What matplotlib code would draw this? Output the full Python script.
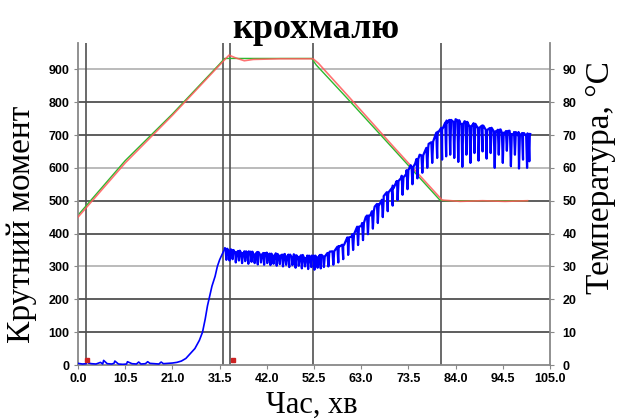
import matplotlib
matplotlib.use("Agg")
import matplotlib.pyplot as plt

# ---------------- data ----------------
title = "крохмалю"
ylabel_left = "Крутний момент"
ylabel_right = "Температура, °C"
xlabel = "Час, хв"

x_ticks = [0.0, 10.5, 21.0, 31.5, 42.0, 52.5, 63.0, 73.5, 84.0, 94.5, 105.0]
y_ticks_left = [0, 100, 200, 300, 400, 500, 600, 700, 800, 900]
y_ticks_right = [0, 10, 20, 30, 40, 50, 60, 70, 80, 90]
event_lines = [1.8, 32.3, 33.8, 52.3, 80.8]

# torque (blue): low phase and rise
rise_t = [0.0, 1.0, 1.8, 2.0, 2.3, 3.0, 4.0, 5.0, 5.5, 5.7, 6.5, 7.5, 8.0, 8.2, 9.0,
          10.0, 10.8, 11.0, 12.0, 13.0, 13.5, 14.0, 15.0, 15.5, 16.0, 17.0, 18.0,
          18.5, 19.0, 20.0, 21.0, 22.0, 23.0, 24.0, 25.0, 26.0, 27.0, 27.7, 28.3,
          28.8, 29.3, 29.8, 30.5, 31.0, 31.5, 32.0, 32.7]
rise_v = [5, 3, 4, 18, 6, 4, 3, 8, 3, 14, 4, 3, 5, 12, 3,
          2, 3, 10, 4, 3, 9, 3, 4, 10, 5, 4, 3,
          9, 4, 5, 6, 8, 12, 20, 35, 50, 75, 100, 140,
          180, 210, 240, 270, 300, 320, 335, 355]
# torque (blue): noisy band after gelatinisation
band_t = [32.7, 33.5, 34.0, 35.0, 36.0, 37.0, 38.0, 39.0, 40.0, 41.0, 42.0, 43.0,
          44.0, 45.0, 46.0, 47.0, 48.0, 49.0, 50.0, 51.0, 52.0, 53.0, 54.0, 55.0,
          56.0, 57.0, 58.0, 59.0, 60.0, 61.0, 62.0, 63.0, 64.0, 65.0, 66.0, 67.0,
          68.0, 69.0, 70.0, 71.0, 72.0, 73.0, 74.0, 75.0, 76.0, 77.0, 78.0, 79.0,
          80.0, 81.0, 82.0, 83.0, 84.0, 85.0, 86.0, 87.0, 88.0, 89.0, 90.0, 91.0,
          92.0, 93.0, 94.0, 95.0, 96.0, 97.0, 98.0, 99.0, 100.0, 100.5]
band_v = [355, 348, 352, 343, 348, 340, 346, 338, 344, 336, 342, 334,
          340, 333, 338, 331, 337, 329, 335, 327, 333, 327, 335, 332,
          345, 343, 362, 363, 388, 392, 418, 423, 450, 455, 482, 487,
          514, 519, 546, 550, 576, 581, 608, 613, 640, 645, 673, 680,
          710, 717, 744, 740, 748, 735, 742, 728, 736, 722, 729, 715,
          722, 709, 717, 705, 713, 701, 709, 697, 705, 696]
# downward spikes of the torque signal: time, lowest value, value beside the spike
dip_t = [33.0, 33.7, 34.4, 35.1, 35.8, 36.5, 37.2, 37.9, 38.6, 39.3, 40.0, 40.7,
         41.4, 42.1, 42.8, 43.5, 44.2, 44.9, 45.6, 46.3, 47.0, 47.7, 48.4, 49.1,
         49.8, 50.5, 51.2, 51.9, 52.6, 53.3, 54.0, 54.7,
         55.7, 56.8, 57.9, 59.0, 60.1, 61.2, 62.3, 63.4, 64.5, 65.6, 66.7, 67.8,
         68.9, 70.0, 71.1, 72.2, 73.3, 74.4, 75.5, 76.6, 77.7, 78.8, 79.9,
         81.0, 81.9, 82.8, 83.7, 84.6, 85.5, 86.4, 87.3, 88.2, 89.1, 90.0, 90.9,
         91.8, 92.7, 93.6, 94.5, 95.4, 96.3, 97.2, 98.1, 99.0, 99.9, 100.4]
dip_lo = [320, 318, 322, 312, 318, 310, 316, 308, 314, 310, 306, 312,
          305, 310, 304, 308, 302, 307, 300, 305, 298, 304, 296, 302,
          294, 300, 292, 298, 290, 296, 294, 298,
          300, 305, 312, 322, 335, 350, 365, 380, 398, 415, 432, 450,
          468, 485, 502, 518, 535, 550, 568, 585, 600, 615, 630,
          625, 635, 640, 630, 618, 603, 640, 615, 645, 622, 650, 628,
          645, 600, 640, 615, 652, 605, 640, 598, 625, 600, 620]
dip_hi = [354, 347, 350, 342, 347, 341, 346, 338, 345, 337, 343, 336,
          341, 334, 339, 333, 338, 331, 336, 330, 336, 329, 334, 327,
          334, 326, 333, 325, 333, 328, 335, 331,
          341, 346, 360, 366, 388, 398, 421, 432, 455, 468, 490, 503,
          526, 538, 560, 571, 593, 603, 627, 638, 661, 678, 707,
          722, 738, 746, 740, 745, 734, 740, 727, 734, 722, 728, 716,
          721, 711, 716, 707, 712, 703, 709, 699, 706, 697, 703]

# temperature (°C): red = measured, green = programmed
temp_red_t = [0, 10.5, 21, 31.5, 33.6, 35, 37, 39, 45, 52.3, 53.5, 60, 70, 81,
              85, 90, 95, 100]
temp_red_v = [45.0, 61.5, 76.0, 91.3, 94.3, 93.5, 92.6, 93.0, 93.2, 93.2, 91.8,
              82.0, 66.7, 50.2, 49.8, 50.0, 49.8, 50.0]
temp_green_t = [0, 10.5, 21, 31.5, 32.6, 52.0, 53.0, 60, 70, 80.5, 81.5, 100]
temp_green_v = [45.6, 62.2, 76.4, 91.6, 93.3, 93.3, 91.3, 81.0, 66.0, 50.2, 50.0,
                50.0]

marks_t = [1.9, 34.5]
marks_v = [15, 15]

# ---------------- figure ----------------
W, H = 619, 420
fig = plt.figure(figsize=(W / 100, H / 100), dpi=100)
x0, x1, yb, yt = 78, 550, 365, 43
ax = fig.add_axes([x0 / W, 1 - yb / H, (x1 - x0) / W, (yb - yt) / H])
ax.set_xlim(0, 105)
ax.set_ylim(0, 980)

grid_cols = ['#505050', '#505050', '#b5b5b5', '#505050', '#505050', '#b5b5b5',
             '#505050', '#505050', '#b5b5b5']
for yv, c in zip(y_ticks_left[1:], grid_cols):
    ax.axhline(yv, color=c, lw=1.3, zorder=1)
for xv in event_lines:
    ax.axvline(xv, color='#505050', lw=1.2, zorder=1)

ax.plot(temp_green_t, [v * 10 for v in temp_green_v], color='#2db82d', lw=1.0,
        zorder=2)
ax.plot(temp_red_t, [v * 10 for v in temp_red_v], color='#ff5a5a', lw=1.2,
        alpha=0.85, zorder=3)

# blue torque trace: rise, then band with narrow downward spikes
pts = list(zip(band_t, band_v))
for t, lo, hi in zip(dip_t, dip_lo, dip_hi):
    pts += [(t - 0.2, hi), (t, lo), (t + 0.2, hi)]
pts.sort()
ax.plot(rise_t, rise_v, color='#0000ff', lw=1.2, zorder=4)
ax.plot([p[0] for p in pts], [p[1] for p in pts], color='#0000ff', lw=1.6,
        zorder=4)
ax.plot(marks_t, marks_v, 's', color='#cc2222', ms=2.5, zorder=5)

ax.spines['top'].set_visible(False)
for s in ['left', 'right', 'bottom']:
    ax.spines[s].set_color('#888888')
    ax.spines[s].set_linewidth(1.3)

tick_font = dict(family=['Liberation Sans Narrow', 'Liberation Sans', 'DejaVu Sans'],
                 weight='bold', size=9)
ax.set_xticks(x_ticks)
ax.set_xticklabels(['%.1f' % v for v in x_ticks], fontdict=tick_font)
ax.set_yticks(y_ticks_left)
ax.set_yticklabels([str(v) for v in y_ticks_left], fontdict=tick_font)
ax.tick_params(axis='both', length=3, color='#888888', pad=3)

ax2 = ax.twinx()
ax2.set_ylim(0, 98)
ax2.set_yticks(y_ticks_right)
ax2.set_yticklabels([str(v) for v in y_ticks_right], fontdict=tick_font)
ax2.tick_params(axis='y', length=3, color='#888888', pad=6)
for s in ['top', 'left', 'bottom', 'right']:
    ax2.spines[s].set_visible(False)

serif = ['Liberation Serif', 'DejaVu Serif']
fig.text(316 / W, 1 - 38 / H, title, ha='center', va='baseline', fontsize=26,
         fontweight='bold', family=serif)
fig.text(22 / W, 1 - 224 / H, ylabel_left, ha='center', va='center', rotation=90,
         fontsize=24, family=serif)
fig.text(601 / W, 1 - 178 / H, ylabel_right, ha='center', va='center', rotation=90,
         fontsize=24, family=serif)
fig.text(312 / W, 1 - 405 / H, xlabel, ha='center', va='center', fontsize=22,
         family=serif)

fig.savefig('out.png', dpi=100)
